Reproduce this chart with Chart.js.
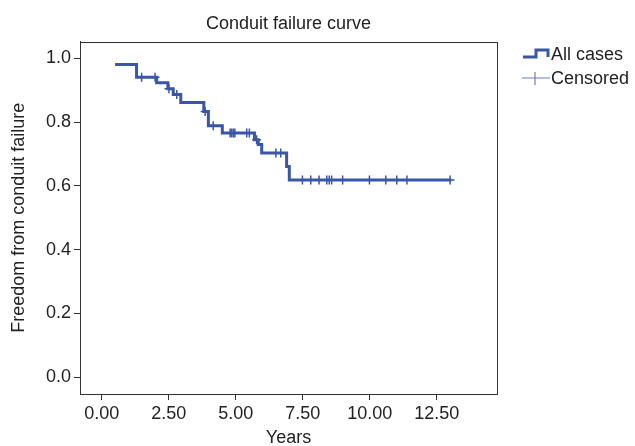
<!DOCTYPE html>
<html>
<head>
<meta charset="utf-8">
<script src="https://cdn.jsdelivr.net/npm/chart.js@4.4.0/dist/chart.umd.min.js"></script>
<style>
html, body { margin: 0; padding: 0; background: #fff; }
#wrap { position: relative; width: 635px; height: 446px; }
#legend { position: absolute; left: 515px; top: 38px; font-family: "Liberation Sans", Arial, sans-serif; }
</style>
</head>
<body>
<div id="wrap">
  <canvas id="myChart" width="635" height="446"></canvas>
  <svg id="legend" width="120" height="56">
    <path d="M8 19 H21 V12 H33 V19" fill="none" stroke="#3a56a8" stroke-width="3"/>
    <text x="36" y="22" font-size="18" fill="#222">All cases</text>
    <path d="M7 40 H35 M20 34 V47" fill="none" stroke="#6d7fc0" stroke-width="1.2"/>
    <text x="36" y="46" font-size="18" fill="#222">Censored</text>
  </svg>
</div>
<script>
// step points of the Kaplan-Meier curve (years, freedom from failure)
const eventYears = [0.50, 1.30, 2.05, 2.47, 2.67, 2.95, 3.81, 3.98, 4.50, 5.70, 5.84, 5.97, 6.90, 7.00, 13.05]
const survival   = [0.981, 0.941, 0.924, 0.905, 0.887, 0.862, 0.834, 0.789, 0.766, 0.745, 0.730, 0.703, 0.661, 0.619, 0.619]

// censored cases
const censorYears    = [1.49, 1.99, 2.51, 2.80, 3.86, 4.16, 4.79, 4.85, 4.91, 4.97, 5.41, 5.51, 5.78, 6.50, 6.68,
                        7.49, 7.80, 8.11, 8.40, 8.49, 8.58, 8.99, 9.99, 10.60, 11.01, 11.39, 13.00]
const censorSurvival = [0.941, 0.941, 0.905, 0.887, 0.834, 0.789, 0.766, 0.766, 0.766, 0.766, 0.766, 0.766, 0.745, 0.703, 0.703,
                        0.619, 0.619, 0.619, 0.619, 0.619, 0.619, 0.619, 0.619, 0.619, 0.619, 0.619, 0.619]

const xTicks = [0, 2.5, 5, 7.5, 10, 12.5]
const yTicks = [0, 0.2, 0.4, 0.6, 0.8, 1.0]

const lineColor = '#3a56a8'
const txtColor = '#222'
const axisColor = '#333'
const fontFam = '"Liberation Sans", Arial, sans-serif'

const boxPlugin = {
  id: 'box',
  afterDraw(chart) {
    const a = chart.chartArea
    const ctx = chart.ctx
    ctx.save()
    ctx.strokeStyle = axisColor
    ctx.lineWidth = 1
    ctx.strokeRect(Math.round(a.left) + 0.5, Math.round(a.top) + 0.5, Math.round(a.right - a.left), Math.round(a.bottom - a.top))
    ctx.restore()
  }
}

const curve = eventYears.map((x, i) => ({ x: x, y: survival[i] }))
const censored = censorYears.map((x, i) => ({ x: x, y: censorSurvival[i] }))

const chartContainer = document.getElementById('myChart')
const myChart = new Chart(chartContainer, {
  type: 'line',
  data: {
    datasets: [
      {
        label: 'All cases',
        data: curve,
        stepped: true,
        borderColor: lineColor,
        borderWidth: 3,
        pointRadius: 0,
        fill: false
      },
      {
        label: 'Censored',
        data: censored,
        showLine: false,
        pointStyle: 'cross',
        pointRadius: 4.5,
        borderColor: lineColor,
        backgroundColor: lineColor,
        borderWidth: 1.5
      }
    ]
  },
  options: {
    responsive: false,
    animation: false,
    devicePixelRatio: 1,
    layout: { padding: { left: 0, right: 138, top: 0, bottom: 0 } },
    plugins: {
      legend: { display: false },
      tooltip: { enabled: false },
      title: {
        display: true,
        text: 'Conduit failure curve',
        fullSize: false,
        color: txtColor,
        font: { family: fontFam, size: 18, weight: 'normal' },
        padding: { top: 13, bottom: 7 }
      }
    },
    scales: {
      x: {
        type: 'linear',
        min: -0.81,
        max: 14.75,
        afterBuildTicks: (s) => { s.ticks = xTicks.map(v => ({ value: v })) },
        afterFit: (s) => { s.height = 52 },
        ticks: {
          callback: (v) => Number(v).toFixed(2),
          color: txtColor,
          font: { family: fontFam, size: 18 },
          padding: 3,
          maxRotation: 0
        },
        grid: { drawOnChartArea: false, tickLength: 6, color: axisColor },
        border: { color: axisColor },
        title: {
          display: true,
          text: 'Years',
          color: txtColor,
          font: { family: fontFam, size: 18 },
          padding: { top: 0, bottom: -3 }
        }
      },
      y: {
        min: -0.053,
        max: 1.053,
        afterBuildTicks: (s) => { s.ticks = yTicks.map(v => ({ value: v })) },
        afterFit: (s) => { s.width = 80 },
        ticks: {
          callback: (v) => Number(v).toFixed(1),
          color: txtColor,
          font: { family: fontFam, size: 18 },
          padding: 3
        },
        grid: { drawOnChartArea: false, tickLength: 6, color: axisColor },
        border: { color: axisColor },
        title: {
          display: true,
          text: 'Freedom from conduit failure',
          color: txtColor,
          font: { family: fontFam, size: 18 },
          padding: { top: 8, bottom: 0 }
        }
      }
    }
  },
  plugins: [boxPlugin]
})
</script>
</body>
</html>
